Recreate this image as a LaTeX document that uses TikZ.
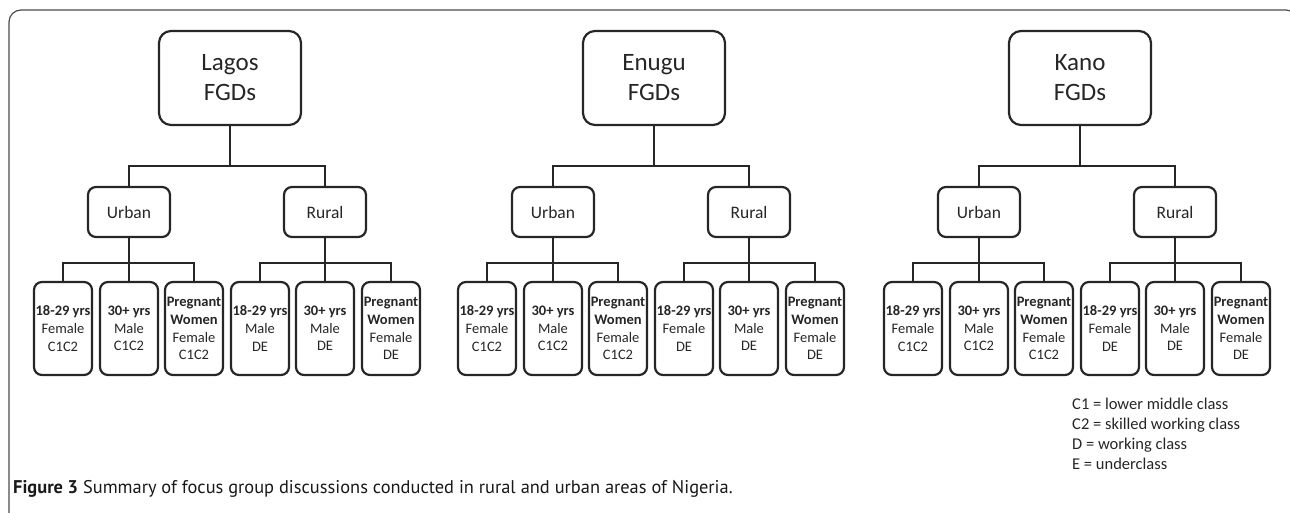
\documentclass[tikz,border=0pt]{standalone}
\usepackage{fontspec}
\setmainfont{Carlito}
\newfontfamily\captionfont{PT Sans}
\usepackage{tikz}
\usetikzlibrary{shapes}
\tikzstyle{city} = [rectangle, rounded corners=12pt, minimum width=142pt, minimum height=94pt, align=center, draw=black!85, line width=2.2pt, text=black!85, font=\fontsize{25}{30}\selectfont]
\tikzstyle{area} = [rectangle, rounded corners=8pt, minimum width=82pt, minimum height=50pt, align=center, draw=black!85, line width=2.2pt, text=black!85, font=\fontsize{17.5}{21}\selectfont]
\tikzstyle{group} = [rectangle, rounded corners=8pt, minimum width=58pt, minimum height=93pt, inner sep=1pt, align=center, draw=black!85, line width=2.2pt, text=black!85, font=\fontsize{14.5}{17.7}\selectfont]
\tikzstyle{link} = [line width=2.4pt, draw=black!85]
\tikzstyle{frame} = [line width=1.2pt, draw=black!70, rounded corners=12pt]

\begin{document}
\begin{tikzpicture}[x=1pt, y=-1pt]

    \clip (0,0) rectangle (1290,513);
    \draw[frame] (9,520) -- (9,10) -- (1298,10) -- (1298,40);

    % Lagos
    \node(LA)[city] at (230,78) {Lagos\\FGDs};
    \node(LAU)[area] at (129,212) {Urban};
    \node(LAR)[area] at (325,212) {Rural};
    \node(LAU1)[group] at (63,328.5) {\textbf{18-29 yrs}\\Female\\C1C2};
    \node(LAU2)[group] at (129,328.5) {\textbf{30+ yrs}\\Male\\C1C2};
    \node(LAU3)[group] at (194,328.5) {\textbf{Pregnant}\\\textbf{Women}\\Female\\C1C2};
    \node(LAR1)[group] at (260,328.5) {\textbf{18-29 yrs}\\Male\\DE};
    \node(LAR2)[group] at (325,328.5) {\textbf{30+ yrs}\\Male\\DE};
    \node(LAR3)[group] at (391,328.5) {\textbf{Pregnant}\\\textbf{Women}\\Female\\DE};
    \draw[link] (LA.south) -- ++(0,40) -| (LAU.north) (LA.south) -- ++(0,40) -| (LAR.north);
    \draw[link] (LAU.south) -- ++(0,25) -| (LAU1.north) (LAU.south) -- (LAU2.north)
                (LAU.south) -- ++(0,25) -| (LAU3.north);
    \draw[link] (LAR.south) -- ++(0,25) -| (LAR1.north) (LAR.south) -- (LAR2.north)
                (LAR.south) -- ++(0,25) -| (LAR3.north);

    % Enugu
    \node(EN)[city] at (654,78) {Enugu\\FGDs};
    \node(ENU)[area] at (553,212) {Urban};
    \node(ENR)[area] at (749,212) {Rural};
    \node(ENU1)[group] at (487,328.5) {\textbf{18-29 yrs}\\Female\\C1C2};
    \node(ENU2)[group] at (553,328.5) {\textbf{30+ yrs}\\Male\\C1C2};
    \node(ENU3)[group] at (618,328.5) {\textbf{Pregnant}\\\textbf{Women}\\Female\\C1C2};
    \node(ENR1)[group] at (684,328.5) {\textbf{18-29 yrs}\\Female\\DE};
    \node(ENR2)[group] at (749,328.5) {\textbf{30+ yrs}\\Male\\DE};
    \node(ENR3)[group] at (815,328.5) {\textbf{Pregnant}\\\textbf{Women}\\Female\\DE};
    \draw[link] (EN.south) -- ++(0,40) -| (ENU.north) (EN.south) -- ++(0,40) -| (ENR.north);
    \draw[link] (ENU.south) -- ++(0,25) -| (ENU1.north) (ENU.south) -- (ENU2.north)
                (ENU.south) -- ++(0,25) -| (ENU3.north);
    \draw[link] (ENR.south) -- ++(0,25) -| (ENR1.north) (ENR.south) -- (ENR2.north)
                (ENR.south) -- ++(0,25) -| (ENR3.north);

    % Kano
    \node(KA)[city] at (1080,78) {Kano\\FGDs};
    \node(KAU)[area] at (979,212) {Urban};
    \node(KAR)[area] at (1175,212) {Rural};
    \node(KAU1)[group] at (913,328.5) {\textbf{18-29 yrs}\\Female\\C1C2};
    \node(KAU2)[group] at (979,328.5) {\textbf{30+ yrs}\\Male\\C1C2};
    \node(KAU3)[group] at (1044,328.5) {\textbf{Pregnant}\\\textbf{Women}\\Female\\C1C2};
    \node(KAR1)[group] at (1110,328.5) {\textbf{18-29 yrs}\\Female\\DE};
    \node(KAR2)[group] at (1175,328.5) {\textbf{30+ yrs}\\Male\\DE};
    \node(KAR3)[group] at (1241,328.5) {\textbf{Pregnant}\\\textbf{Women}\\Female\\DE};
    \draw[link] (KA.south) -- ++(0,40) -| (KAU.north) (KA.south) -- ++(0,40) -| (KAR.north);
    \draw[link] (KAU.south) -- ++(0,25) -| (KAU1.north) (KAU.south) -- (KAU2.north)
                (KAU.south) -- ++(0,25) -| (KAU3.north);
    \draw[link] (KAR.south) -- ++(0,25) -| (KAR1.north) (KAR.south) -- (KAR2.north)
                (KAR.south) -- ++(0,25) -| (KAR3.north);

    % legend and caption
    \node(legend)[anchor=north west, align=left, inner sep=0pt, text=black!85, font=\fontsize{16.5}{20}\selectfont]
        at (1072,398) {C1 = lower middle class\\C2 = skilled working class\\D = working class\\E = underclass};
    \node(caption)[anchor=base west, inner sep=0pt, text=black!90, font=\captionfont\fontsize{18.4}{22}\selectfont]
        at (13,493) {\textbf{Figure 3} Summary of focus group discussions conducted in rural and urban areas of Nigeria.};

\end{tikzpicture}
\end{document}
